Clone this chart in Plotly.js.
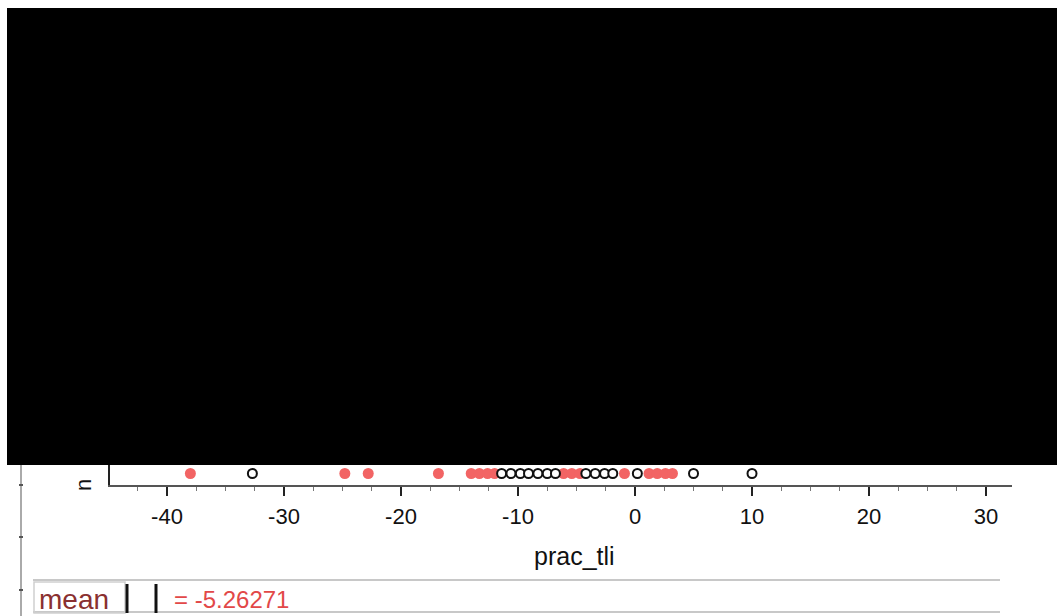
<!DOCTYPE html>
<html>
<head>
<meta charset="utf-8">
<script src="https://cdn.plot.ly/plotly-3.0.1.min.js"></script>
<style>html,body{margin:0;padding:0;background:#fff;}#chart{width:1057px;height:616px;}</style>
</head>
<body>
<div id="chart"></div>
<script>
// Data
const selectedValues = [-38.0, -24.8, -22.8, -16.8, -14.0, -13.3, -12.6, -12.0, -6.1, -5.4, -4.7, -0.9, 1.2, 1.9, 2.6, 3.2];
const otherValues = [-32.7, -11.4, -10.6, -9.8, -9.1, -8.3, -7.5, -6.8, -4.2, -3.4, -2.6, -1.9, 0.2, 5.0, 10.0];
const tickValues = [-40, -30, -20, -10, 0, 10, 20, 30];
const tickLabels = ["-40", "-30", "-20", "-10", "0", "10", "20", "30"];
const axisTitle = "prac_tli";
const countLabel = "n";
const summaryName = "mean";
const summaryValue = "= -5.26271";

const W = 1057, H = 616;
const px = x => x / W;
const py = y => 1 - y / H;
const FONT = 'Liberation Sans, Arial, sans-serif';

const traces = [
  {
    type: 'scatter', mode: 'markers',
    x: selectedValues, y: selectedValues.map(() => 0.5),
    marker: {size: 11, color: '#f26464', line: {width: 0}},
    hoverinfo: 'x', showlegend: false
  },
  {
    type: 'scatter', mode: 'markers',
    x: otherValues, y: otherValues.map(() => 0.5),
    marker: {size: 9, color: '#ffffff', symbol: 'circle', line: {width: 2, color: '#111'}},
    hoverinfo: 'x', showlegend: false
  }
];

const layout = {
  width: W, height: H,
  margin: {l: 0, r: 0, t: 0, b: 0},
  paper_bgcolor: '#ffffff', plot_bgcolor: '#ffffff',
  showlegend: false,
  font: {family: FONT, color: '#111'},
  xaxis: {
    domain: [px(110), px(1012)],
    range: [-44.87, 32.22],
    tickmode: 'array', tickvals: tickValues, ticktext: tickLabels,
    ticks: 'outside', ticklen: 9, tickwidth: 2, tickcolor: '#222',
    minor: {dtick: 2.5, tick0: 0, ticks: 'outside', ticklen: 4, tickwidth: 1, tickcolor: '#777'},
    showline: true, linecolor: '#555', linewidth: 2,
    showgrid: false, zeroline: false,
    tickfont: {size: 22, color: '#111', family: FONT},
    ticklabelstandoff: 2,
    fixedrange: true
  },
  yaxis: {
    domain: [py(485), py(462)],
    range: [0, 1],
    showline: true, linecolor: '#222', linewidth: 2,
    showticklabels: false, ticks: '', showgrid: false, zeroline: false,
    fixedrange: true
  },
  shapes: [
    // black cover block
    {type: 'rect', xref: 'paper', yref: 'paper', x0: px(7), x1: px(1057), y0: py(465), y1: py(8), fillcolor: '#000', line: {width: 0}, layer: 'above'},
    // left gray rule
    {type: 'line', xref: 'paper', yref: 'paper', x0: px(21), x1: px(21), y0: py(465), y1: py(616), line: {color: '#aaa', width: 2}},
    {type: 'line', xref: 'paper', yref: 'paper', x0: px(19), x1: px(23), y0: py(485), y1: py(485), line: {color: '#555', width: 2}},
    {type: 'line', xref: 'paper', yref: 'paper', x0: px(19), x1: px(23), y0: py(537), y1: py(537), line: {color: '#555', width: 2}},
    {type: 'line', xref: 'paper', yref: 'paper', x0: px(19), x1: px(23), y0: py(590), y1: py(590), line: {color: '#555', width: 2}},
    // formula box lines
    {type: 'line', xref: 'paper', yref: 'paper', x0: px(33), x1: px(1000), y0: py(580), y1: py(580), line: {color: '#c8c8c8', width: 2}},
    {type: 'line', xref: 'paper', yref: 'paper', x0: px(33), x1: px(1000), y0: py(612), y1: py(612), line: {color: '#c8c8c8', width: 2}},
    {type: 'rect', xref: 'paper', yref: 'paper', x0: px(34), x1: px(125), y0: py(613), y1: py(582), line: {color: '#cfcfcf', width: 1.5}},
    // argument brackets
    {type: 'line', xref: 'paper', yref: 'paper', x0: px(127), x1: px(127), y0: py(584), y1: py(613), line: {color: '#111', width: 3}},
    {type: 'line', xref: 'paper', yref: 'paper', x0: px(156), x1: px(156), y0: py(584), y1: py(613), line: {color: '#111', width: 3}}
  ],
  annotations: [
    {xref: 'paper', yref: 'paper', x: px(574), y: py(556), text: axisTitle, showarrow: false,
     font: {size: 25, color: '#111', family: FONT}, xanchor: 'center', yanchor: 'middle'},
    {xref: 'paper', yref: 'paper', x: px(83), y: py(485), text: countLabel, showarrow: false, textangle: -90,
     font: {size: 22, color: '#111', family: FONT}, xanchor: 'center', yanchor: 'middle'},
    {xref: 'paper', yref: 'paper', x: px(37), y: py(599), text: summaryName, showarrow: false,
     font: {size: 28, color: '#8a3030', family: FONT}, xanchor: 'left', yanchor: 'middle'},
    {xref: 'paper', yref: 'paper', x: px(172), y: py(599), text: summaryValue, showarrow: false,
     font: {size: 24, color: '#e24848', family: FONT}, xanchor: 'left', yanchor: 'middle'}
  ]
};

Plotly.newPlot('chart', traces, layout, {staticPlot: true, displayModeBar: false});
</script>
</body>
</html>
